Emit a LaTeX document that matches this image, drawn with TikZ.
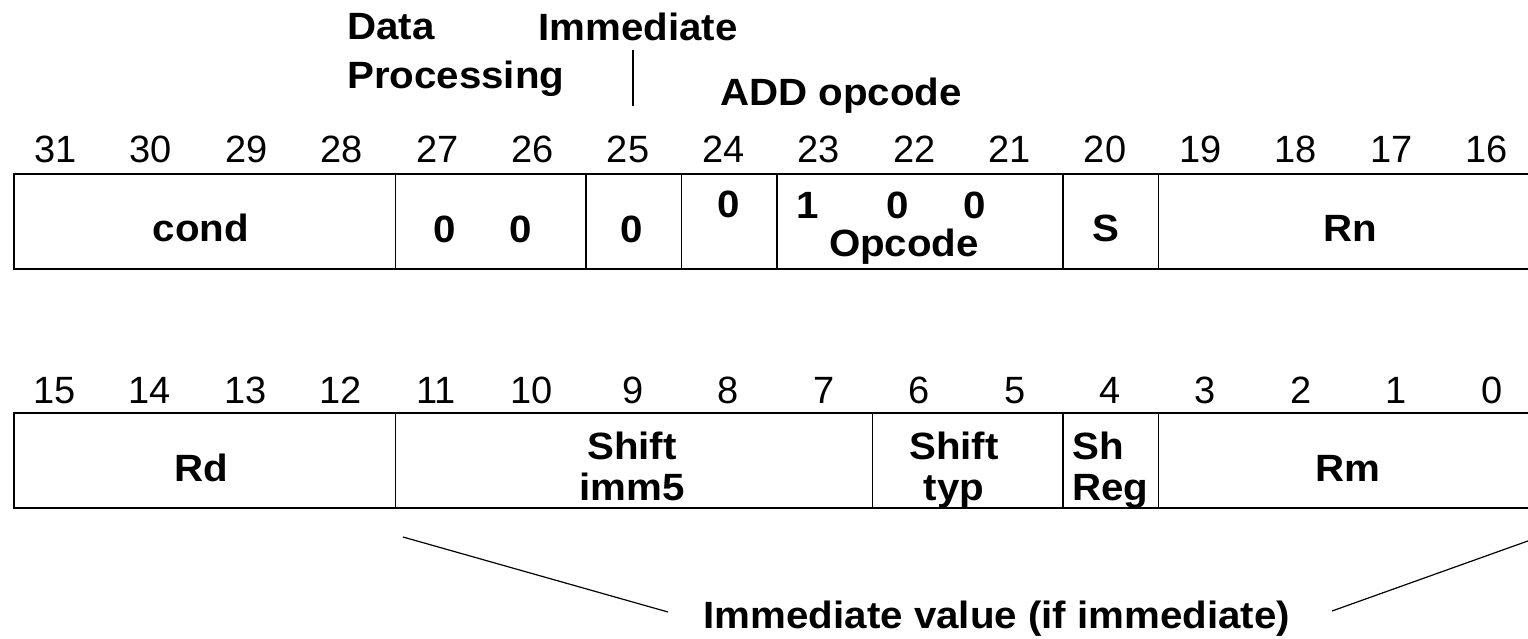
\documentclass[tikz,border=0pt]{standalone}
\usepackage{fontspec}
\setmainfont{Liberation Sans}
\usepackage{graphicx}
\newcommand{\wx}[1]{\scalebox{1.06}[1]{#1}}
\begin{document}
\begin{tikzpicture}[x=1pt,y=-1pt,
  field/.style={draw, line width=1.6pt, inner sep=0pt, anchor=north west, minimum height=95pt},
  bitnum/.style={font=\fontsize{38}{38}\selectfont, inner sep=0pt, anchor=base},
  lbl/.style={font=\fontsize{38}{41}\selectfont\bfseries, inner sep=0pt},
  conn/.style={line width=1.2pt}]
\useasboundingbox (0,0) rectangle (1528,639);
\fill[white] (0,0) rectangle (1528,639);
\begin{scope}
\clip (0,0) rectangle (1528,639);
% top word fields
\node[field, minimum width=381.6pt] (cond) at (12.9,173) {};
\node[field, minimum width=190.8pt] (f27) at (394.5,173) {};
\node[field, minimum width=95.4pt] (f25) at (585.3,173) {};
\node[field, minimum width=95.4pt] (f24) at (680.7,173) {};
\node[field, minimum width=286.2pt] (opc) at (776.1,173) {};
\node[field, minimum width=95.4pt] (fS) at (1062.3,173) {};
\node[field, minimum width=381.6pt] (rn) at (1157.7,173) {};
% bottom word fields
\node[field, minimum width=381.6pt] (rd) at (12.9,412) {};
\node[field, minimum width=477pt] (shimm) at (394.5,412) {};
\node[field, minimum width=190.8pt] (shtyp) at (871.5,412) {};
\node[field, minimum width=95.4pt] (shreg) at (1062.3,412) {};
\node[field, minimum width=381.6pt] (rm) at (1157.7,412) {};
\end{scope}
% bit numbers
\foreach \i in {0,...,15}{
  \pgfmathtruncatemacro{\n}{31-\i}
  \pgfmathtruncatemacro{\m}{15-\i}
  \pgfmathsetmacro{\off}{\m>9 ? 6 : 0}
  \node[bitnum] (tb\n) at ({12.9+95.4*(\i+0.5)-5},163) {\n};
  \node[bitnum] (bb\m) at ({12.9+95.4*(\i+0.5)-\off},403) {\m};
}
% top field contents
\node[lbl, anchor=base] (tcond) at (201,241) {\wx{cond}};
\node[lbl] (v27) at (445,229) {\wx{0}};
\node[lbl] (v26) at (521,229) {\wx{0}};
\node[lbl] (v25) at (632,229) {\wx{0}};
\node[lbl] (v24) at (729,204) {\wx{0}};
\node[lbl] (v23) at (808,205) {\wx{1}};
\node[lbl] (v22) at (898,205) {\wx{0}};
\node[lbl] (v21) at (975,205) {\wx{0}};
\node[lbl, anchor=base] (topc) at (904,256) {\wx{Opcode}};
\node[lbl] (tS) at (1106,228) {\wx{S}};
\node[lbl, anchor=base] (trn) at (1350,241) {\wx{Rn}};
% bottom field contents
\node[lbl, anchor=base] (trd) at (201,481) {\wx{Rd}};
\node[lbl, anchor=north, align=center] (tshimm) at (632,432) {\wx{Shift}\\\wx{imm5}};
\node[lbl, anchor=north, align=center] (tshtyp) at (954,432) {\wx{Shift}\\\wx{typ}};
\node[lbl, anchor=north west, align=left] (tshreg) at (1072,432) {\wx{Sh}\\\wx{Reg}};
\node[lbl, anchor=base] (trm) at (1348,481) {\wx{Rm}};
% annotations
\node[lbl, anchor=north west, align=left, font=\fontsize{38}{49}\selectfont\bfseries] (dp) at (347,13) {\wx{Data}\\\wx{Processing}};
\node[lbl, anchor=base] (imm) at (638,41) {\wx{Immediate}};
\node[lbl, anchor=base] (addop) at (841,106) {\wx{ADD opcode}};
\node[lbl, anchor=base] (imv) at (997,628) {\wx{Immediate value (if immediate)}};
\coordinate (vt) at (633,50);
\coordinate (vb) at (633,106);
\draw[conn] (vt) -- (vb);
\coordinate (la) at (403,537);
\coordinate (lb) at (668,612);
\coordinate (ra) at (1332,611);
\coordinate (rb) at (1539,537);
\begin{scope}
\clip (0,0) rectangle (1528,639);
\draw[conn] (la) -- (lb);
\draw[conn] (ra) -- (rb);
\end{scope}
\end{tikzpicture}
\end{document}
